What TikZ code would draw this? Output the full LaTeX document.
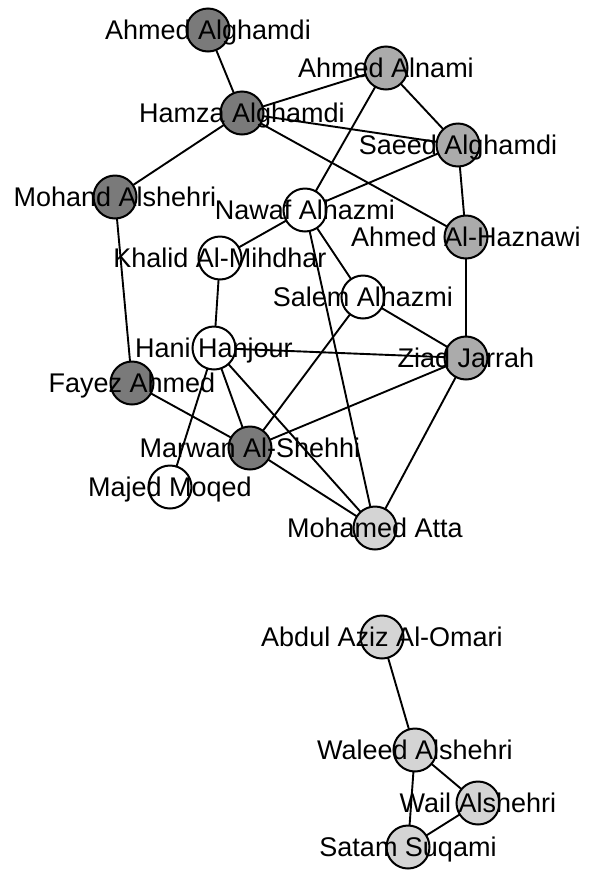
\documentclass[tikz,border=0pt]{standalone}
\usepackage{fontspec}
\setmainfont{Liberation Sans}
\pgfdeclarelayer{bg}
\pgfsetlayers{bg,main}
\begin{document}
\begin{tikzpicture}[x=1pt,y=-1pt,
  vtx/.style={circle,draw=black,line width=2pt,minimum size=43pt,inner sep=0pt},
  dk/.style={vtx,fill=black!52},
  md/.style={vtx,fill=black!33},
  lt/.style={vtx,fill=black!17},
  wh/.style={vtx,fill=white},
  lbl/.style={inner sep=0pt,text height=19.3pt,text depth=0pt,font=\fontsize{27}{30}\selectfont},
  edge/.style={line width=1.9pt,black}]
\useasboundingbox (0,0) rectangle (594,871);
% vertices
\node[dk] (aag) at (208,30) {};
\node[dk] (ham) at (242,113) {};
\node[md] (aan) at (386,68) {};
\node[md] (sae) at (458,145) {};
\node[dk] (moh) at (115,197) {};
\node[wh] (naw) at (305,210) {};
\node[md] (ahz) at (466,237) {};
\node[wh] (kha) at (220,258) {};
\node[wh] (sal) at (363,297) {};
\node[wh] (han) at (214,348) {};
\node[md] (zia) at (466,358) {};
\node[dk] (fay) at (132,383) {};
\node[dk] (mar) at (250,448) {};
\node[wh] (maj) at (170,487) {};
\node[lt] (att) at (375,528) {};
\node[lt] (abd) at (382,637) {};
\node[lt] (wal) at (415,750) {};
\node[lt] (wai) at (478,803) {};
\node[lt] (sat) at (408,847) {};
% edges (behind the vertices)
\begin{pgfonlayer}{bg}
\foreach \a/\b in {aag/ham,ham/aan,ham/sae,ham/ahz,ham/moh,aan/sae,aan/naw,sae/naw,sae/ahz,ahz/zia,naw/kha,naw/sal,naw/att,moh/fay,kha/han,sal/zia,sal/mar,han/zia,han/maj,han/mar,han/att,fay/mar,mar/zia,mar/att,zia/att,abd/wal,wal/wai,wal/sat,wai/sat}
  \draw[edge] (\a.center) -- (\b.center);
\end{pgfonlayer}
% labels
\node[lbl] (laag) at (aag) {Ahmed Alghamdi};
\node[lbl] (lham) at (ham) {Hamza Alghamdi};
\node[lbl] (laan) at (aan) {Ahmed Alnami};
\node[lbl] (lsae) at (sae) {Saeed Alghamdi};
\node[lbl] (lmoh) at (moh) {Mohand Alshehri};
\node[lbl] (lnaw) at (naw) {Nawaf Alhazmi};
\node[lbl] (lahz) at (ahz) {Ahmed Al-Haznawi};
\node[lbl] (lkha) at (kha) {Khalid Al-Mihdhar};
\node[lbl] (lsal) at (sal) {Salem Alhazmi};
\node[lbl] (lhan) at (han) {Hani Hanjour};
\node[lbl] (lzia) at (zia) {Ziad Jarrah};
\node[lbl] (lfay) at (fay) {Fayez Ahmed};
\node[lbl] (lmar) at (mar) {Marwan Al-Shehhi};
\node[lbl] (lmaj) at (maj) {Majed Moqed};
\node[lbl] (latt) at (att) {Mohamed Atta};
\node[lbl] (labd) at (abd) {Abdul Aziz Al-Omari};
\node[lbl] (lwal) at (wal) {Waleed Alshehri};
\node[lbl] (lwai) at (wai) {Wail Alshehri};
\node[lbl] (lsat) at (sat) {Satam Suqami};
\end{tikzpicture}
\end{document}
